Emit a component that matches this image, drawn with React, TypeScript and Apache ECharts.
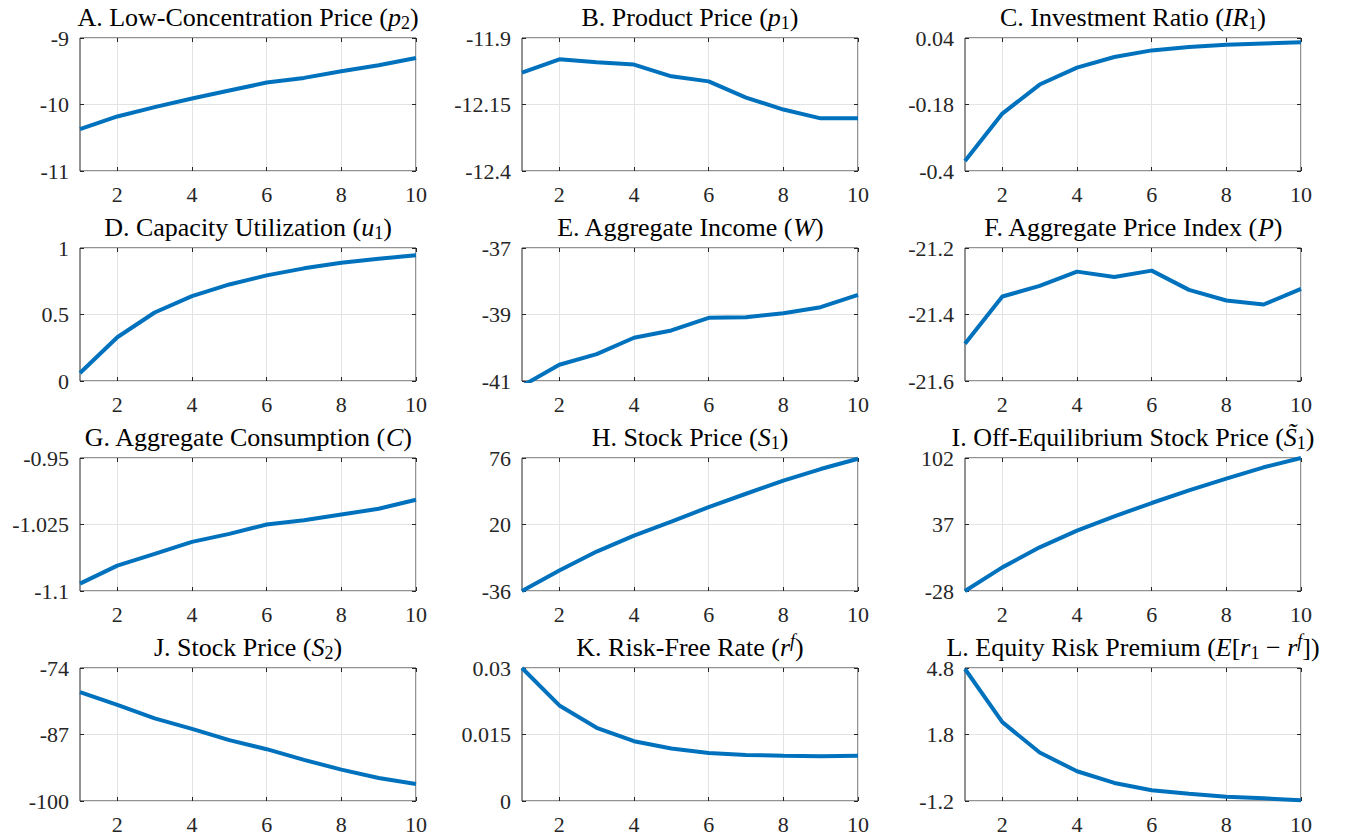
import React, { useEffect, useRef } from "react";
import * as echarts from "echarts";

// ---------- data ----------
const steps = [1, 2, 3, 4, 5, 6, 7, 8, 9, 10];
const xTickValues = [2, 4, 6, 8, 10];

const lowConcPrice = [-10.37, -10.18, -10.04, -9.91, -9.79, -9.67, -9.6, -9.5, -9.41, -9.3];
const productPrice = [-12.03, -11.98, -11.991, -12.0, -12.044, -12.063, -12.124, -12.169, -12.202, -12.202];
const investRatio = [-0.367, -0.21, -0.114, -0.058, -0.023, -0.001, 0.01, 0.018, 0.022, 0.026];
const capUtil = [0.06, 0.329, 0.515, 0.638, 0.726, 0.794, 0.847, 0.889, 0.92, 0.945];
const aggIncome = [-41.15, -40.51, -40.19, -39.7, -39.48, -39.1, -39.08, -38.96, -38.78, -38.41];
const aggPriceIdx = [-21.488, -21.346, -21.314, -21.271, -21.287, -21.268, -21.326, -21.358, -21.37, -21.323];
const aggConsumption = [-1.0917, -1.0714, -1.0582, -1.0446, -1.0356, -1.025, -1.0201, -1.0137, -1.0073, -0.9971];
const stockPrice1 = [-36, -18.8, -2.8, 10.7, 22.5, 34.6, 45.9, 56.9, 66.7, 75.4];
const offEqStockPrice = [-28, -4.9, 14.7, 31.0, 45.0, 58.0, 70.4, 81.8, 92.9, 102];
const stockPrice2 = [-78.7, -81.19, -83.86, -85.89, -88.11, -89.87, -91.96, -93.86, -95.49, -96.67];
const riskFree = [0.03, 0.02156, 0.01651, 0.01349, 0.01184, 0.01085, 0.0104, 0.01018, 0.0101, 0.01018];
const equityPremium = [4.755, 2.358, 0.986, 0.142, -0.386, -0.717, -0.868, -1.005, -1.079, -1.17];

// y tick labels: bottom, middle, top
const yTicksA = ["-11", "-10", "-9"];
const yTicksB = ["-12.4", "-12.15", "-11.9"];
const yTicksC = ["-0.4", "-0.18", "0.04"];
const yTicksD = ["0", "0.5", "1"];
const yTicksE = ["-41", "-39", "-37"];
const yTicksF = ["-21.6", "-21.4", "-21.2"];
const yTicksG = ["-1.1", "-1.025", "-0.95"];
const yTicksH = ["-36", "20", "76"];
const yTicksI = ["-28", "37", "102"];
const yTicksJ = ["-100", "-87", "-74"];
const yTicksK = ["0", "0.015", "0.03"];
const yTicksL = ["-1.2", "1.8", "4.8"];

const titles = [
  "{n|A. Low-Concentration Price (}{i|p}{s|2}{n|)}",
  "{n|B. Product Price (}{i|p}{s|1}{n|)}",
  "{n|C. Investment Ratio (}{i|IR}{s|1}{n|)}",
  "{n|D. Capacity Utilization (}{i|u}{s|1}{n|)}",
  "{n|E. Aggregate Income (}{i|W}{n|)}",
  "{n|F. Aggregate Price Index (}{i|P}{n|)}",
  "{n|G. Aggregate Consumption (}{i|C}{n|)}",
  "{n|H. Stock Price (}{i|S}{s|1}{n|)}",
  "{n|I. Off-Equilibrium Stock Price (}{i|S\u0303}{s|1}{n|)}",
  "{n|J. Stock Price (}{i|S}{s|2}{n|)}",
  "{n|K. Risk-Free Rate (}{i|r}{p|f}{n|)}",
  "{n|L. Equity Risk Premium (}{i|E}{n|[}{i|r}{s|1}{n| \u2212 }{i|r}{p|f}{n|])}",
];

const seriesValues = [
  lowConcPrice, productPrice, investRatio,
  capUtil, aggIncome, aggPriceIdx,
  aggConsumption, stockPrice1, offEqStockPrice,
  stockPrice2, riskFree, equityPremium,
];
const yTickLabels = [
  yTicksA, yTicksB, yTicksC,
  yTicksD, yTicksE, yTicksF,
  yTicksG, yTicksH, yTicksI,
  yTicksJ, yTicksK, yTicksL,
];

// ---------- layout / style ----------
const colLeft = [80, 522, 965];
const rowTop = [38, 248, 458, 668];
const plotW = 336;
const plotH = 133;
const FONT = "Liberation Serif";
const LINE_COLOR = "#0072BD";
const AXIS_COLOR = "#262626";
const GRID_COLOR = "#e3e3e3";
const TITLE_SIZE = 26;
const SUB_SIZE = 18;
const TICK_SIZE = 22;

function buildOption() {
  const grid: any[] = [];
  const xAxis: any[] = [];
  const yAxis: any[] = [];
  const series: any[] = [];
  const graphic: any[] = [];

  const richStyles = {
    n: { fontFamily: FONT, fontSize: TITLE_SIZE, fill: "#000", color: "#000", lineHeight: 30 },
    i: { fontFamily: FONT, fontSize: TITLE_SIZE, fontStyle: "italic", fill: "#000", color: "#000", lineHeight: 30 },
    s: { fontFamily: FONT, fontSize: SUB_SIZE, fill: "#000", color: "#000", lineHeight: 18, verticalAlign: "bottom" },
    p: { fontFamily: FONT, fontSize: SUB_SIZE, fontStyle: "italic", fill: "#000", color: "#000", lineHeight: 18, verticalAlign: "top" },
  };

  for (let k = 0; k < 12; k++) {
    const r = Math.floor(k / 3);
    const c = k % 3;
    const left = colLeft[c];
    const top = rowTop[r];
    const labels = yTickLabels[k];
    const yVals = labels.map((s) => parseFloat(s));
    const yMin = yVals[0];
    const yMax = yVals[yVals.length - 1];
    const range = yMax - yMin;

    grid.push({
      left,
      top,
      width: plotW,
      height: plotH,
      show: true,
      borderColor: AXIS_COLOR,
      borderWidth: 1,
      backgroundColor: "transparent",
      containLabel: false,
      outerBoundsMode: "none",
    });

    const tickStyle = { show: true, inside: true, length: 4, lineStyle: { color: AXIS_COLOR, width: 1 } };

    xAxis.push({
      type: "value",
      gridIndex: k,
      position: "bottom",
      min: 1,
      max: 10,
      axisLine: { show: false, onZero: false },
      axisTick: { ...tickStyle, customValues: xTickValues },
      axisLabel: {
        show: true,
        customValues: xTickValues,
        fontFamily: FONT,
        fontSize: TICK_SIZE,
        color: AXIS_COLOR,
        margin: 12,
        showMinLabel: true,
        showMaxLabel: true,
      },
      splitLine: { show: true, lineStyle: { color: GRID_COLOR, width: 1 } },
    });
    xAxis.push({
      type: "value",
      gridIndex: k,
      position: "top",
      min: 1,
      max: 10,
      axisLine: { show: false, onZero: false },
      axisTick: { ...tickStyle, customValues: xTickValues },
      axisLabel: { show: false },
      splitLine: { show: false },
    });
    yAxis.push({
      type: "value",
      gridIndex: k,
      position: "left",
      min: yMin,
      max: yMax,
      axisLine: { show: false, onZero: false },
      axisTick: { ...tickStyle, customValues: yVals },
      axisLabel: {
        show: true,
        customValues: yVals,
        fontFamily: FONT,
        fontSize: TICK_SIZE,
        color: AXIS_COLOR,
        margin: 11,
        showMinLabel: true,
        showMaxLabel: true,
        formatter: (v: number) => {
          for (let j = 0; j < yVals.length; j++) {
            if (Math.abs(v - yVals[j]) < 1e-6 * Math.abs(range)) return labels[j];
          }
          return "";
        },
      },
      splitLine: { show: true, lineStyle: { color: GRID_COLOR, width: 1 } },
    });
    yAxis.push({
      type: "value",
      gridIndex: k,
      position: "right",
      min: yMin,
      max: yMax,
      axisLine: { show: false, onZero: false },
      axisTick: { ...tickStyle, customValues: yVals },
      axisLabel: { show: false },
      splitLine: { show: false },
    });

    series.push({
      type: "line",
      xAxisIndex: 2 * k,
      yAxisIndex: 2 * k,
      data: steps.map((x, i) => [x, seriesValues[k][i]]),
      showSymbol: false,
      symbol: "none",
      clip: true,
      lineStyle: { color: LINE_COLOR, width: 4 },
      z: 5,
    });

    graphic.push({
      type: "text",
      x: left + plotW / 2,
      y: top - 21,
      style: {
        text: titles[k],
        fontFamily: FONT,
        fontSize: TITLE_SIZE,
        fill: "#000",
        rich: richStyles,
        align: "center",
        verticalAlign: "middle",
      },
    });
  }

  return {
    animation: false,
    backgroundColor: "#ffffff",
    textStyle: { fontFamily: FONT },
    grid,
    xAxis,
    yAxis,
    series,
    graphic,
  };
}

export default function App() {
  const ref = useRef<HTMLDivElement>(null);
  useEffect(() => {
    if (!ref.current) return;
    const chart = echarts.init(ref.current, null, { renderer: "svg" });
    chart.setOption(buildOption() as any);
    return () => {
      chart.dispose();
    };
  }, []);
  return (
    <div
      ref={ref}
      style={{ position: "fixed", left: 0, top: 0, width: 1356, height: 838, background: "#fff" }}
    />
  );
}
